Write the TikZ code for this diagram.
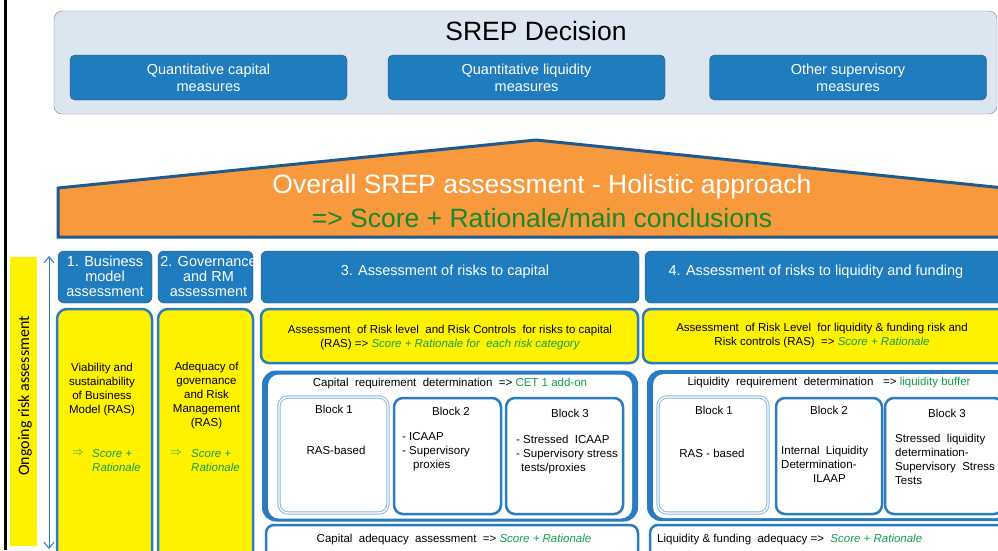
\documentclass[tikz,border=0pt]{standalone}
\usepackage{fontspec}
\setmainfont{Liberation Sans}
\newfontfamily\calfont{Carlito}
\usetikzlibrary{arrows.meta}

\definecolor{boxblue}{HTML}{1F7CBF}
\definecolor{boxedge}{HTML}{3D4A57}
\definecolor{paleblue}{HTML}{DCE6F0}
\definecolor{rooforange}{HTML}{F7993C}
\definecolor{roofedge}{HTML}{1F5A8F}
\definecolor{lineblue}{HTML}{2A7CC2}
\definecolor{darkgreen}{HTML}{17892D}
\definecolor{scoregreen}{HTML}{12A04A}

\newcommand{\scoretxt}[1]{{\color{scoregreen}\itshape #1}}

\tikzset{
  decision/.style={draw=gray, fill=paleblue, rounded corners=8, inner sep=0},
  measure/.style={draw=boxedge, fill=boxblue, rounded corners=5, inner sep=0,
    minimum width=277, minimum height=45, text=white, align=center,
    font=\fontsize{14.5}{17}\selectfont},
  pillar/.style={draw=boxedge, fill=boxblue, rounded corners=6, inner sep=0, minimum height=52},
  pillartext/.style={text=white, align=center, font=\fontsize{14.5}{15}\selectfont},
  yellowbox/.style={draw=lineblue, line width=2.5pt, fill=yellow, rounded corners=10, inner sep=0},
  whitebox/.style={draw=lineblue, line width=2.5pt, fill=white, rounded corners=8, inner sep=0},
  blockbox/.style={draw=lineblue, line width=2.5pt, fill=white, rounded corners=9, inner sep=0,
    minimum height=116},
  blockone/.style={draw=lineblue!55, double=white, double distance=1.3pt, line width=1pt,
    fill=white, rounded corners=9, inner sep=0, minimum height=116},
  small/.style={font=\fontsize{11.5}{14}\selectfont, align=center, inner sep=0},
  smallleft/.style={font=\fontsize{11.5}{14}\selectfont, align=left, inner sep=0},
  scorebox/.style={text=scoregreen, font=\fontsize{11.5}{14}\selectfont\itshape, align=left, inner sep=0},
  big/.style={font=\fontsize{26.5}{30}\selectfont, inner sep=0}
}

\begin{document}
\begin{tikzpicture}[x=1pt,y=-1pt]
\clip (0,0) rectangle (998,550);
\fill[white] (0,0) rectangle (998,550);

\draw[line width=3pt] (5.5,0) -- (5.5,550);

\node[decision, minimum width=943, minimum height=103] (decision) at (525.5,62.5) {};
\node[big] (decisiontitle) at (536,31) {SREP Decision};
\node[measure] (capmeasures) at (208.5,77.5) {Quantitative capital\\measures};
\node[measure] (liqmeasures) at (526.5,77.5) {Quantitative liquidity\\measures};
\node[measure] (othermeasures) at (848,77.5) {Other supervisory\\measures};

\draw[fill=rooforange, draw=roofedge, line width=3pt]
  (58,188) -- (536,140) -- (1004,188) -- (1004,237) -- (58,237) -- cycle;
\node[big, text=white] (overall) at (542,187) {Overall SREP assessment - Holistic approach};
\node[big, text=darkgreen] (conclusions) at (542,218) {=> Score + Rationale/main conclusions};

\node[fill=yellow, minimum width=27, minimum height=289, inner sep=0] (ongoingbar) at (23.5,401.5) {};
\node[rotate=90, inner sep=0, font=\calfont\fontsize{16}{18}\selectfont] (ongoing) at (25,396) {Ongoing risk assessment};
\coordinate (arrowtop) at (49,256);
\coordinate (arrowbottom) at (49,549);
\draw[lineblue, line width=1pt, {Straight Barb[length=6pt,width=10pt]}-{Straight Barb[length=6pt,width=10pt]}]
  (arrowtop) -- (arrowbottom);

\node[pillar, minimum width=94] (business) at (105,277) {};
\node[pillartext] (businesstext) at (105,276) {1. Business\\model\\assessment};
\node[pillar, minimum width=95] (governance) at (205.5,277) {};
\node[pillartext] (governancetext) at (208.5,276) {2. Governance\\and RM\\assessment};
\node[pillar, minimum width=378] (capital) at (450,277) {};
\node[pillartext] (capitaltext) at (445,272) {3. Assessment of risks to capital};
\node[pillar, minimum width=367] (liquidity) at (828.5,277) {};
\node[pillartext, anchor=west] (liquiditytext) at (665,272) {4. Assessment of risks to liquidity and funding};

\node[yellowbox, minimum width=95, minimum height=262] (businessbox) at (104.5,440) {};
\node[small] (viability) at (102,390) {Viability and\\sustainability\\of Business\\Model (RAS)};
\node[small, text=scoregreen] (businessarrow) at (78,453) {$\Rightarrow$};
\node[scorebox, anchor=west] (businessscore) at (92,460.5) {Score +\\Rationale};

\node[yellowbox, minimum width=95, minimum height=262] (governancebox) at (205.5,440) {};
\node[small] (adequacy) at (206.5,396) {Adequacy of\\governance\\and Risk\\Management\\(RAS)};
\node[small, text=scoregreen] (governancearrow) at (176,453) {$\Rightarrow$};
\node[scorebox, anchor=west] (governancescore) at (191,460.5) {Score +\\Rationale};

\node[yellowbox, minimum width=377, minimum height=54, rounded corners=8] (capras) at (449.5,336) {};
\node[small] (caprastext) at (450,338) {Assessment\ \ of Risk level\ \ and Risk Controls\ \ for risks to capital\\(RAS) => \scoretxt{Score + Rationale for\ \ each risk category}};
\node[yellowbox, minimum width=367, minimum height=54, rounded corners=8] (liqras) at (826.5,336) {};
\node[small] (liqrastext) at (822,336) {Assessment\ \ of Risk Level\ \ for liquidity \& funding risk and\\Risk controls (RAS)\ \ => \scoretxt{Score + Rationale}};

\node[fill=lineblue, rounded corners=14, minimum width=376, minimum height=151, inner sep=0] (capreq) at (450,446) {};
\node[fill=white, rounded corners=11, minimum width=364, minimum height=144, inner sep=0] (capreqinner) at (450,446.5) {};
\node[small] (capreqtitle) at (450,384) {Capital\ \ requirement\ \ determination\ \ => {\color{scoregreen}CET 1 add-on}};

\node[blockone, minimum width=109] (capblocka) at (333.5,455) {};
\node[small] (capblockatitle) at (334,409) {Block 1};
\node[small] (capblockabody) at (336,450) {RAS-based};
\node[blockbox, minimum width=107] (capblockb) at (447.5,456) {};
\node[small] (capblockbtitle) at (451,411) {Block 2};
\node[smallleft, anchor=north west] (capblockbbody) at (402,432) {- ICAAP\\- Supervisory\\\hspace*{11pt}proxies};
\node[blockbox, minimum width=117] (capblockc) at (564.5,456) {};
\node[small] (capblockctitle) at (570,413) {Block 3};
\node[smallleft, anchor=north west] (capblockcbody) at (516,435) {- Stressed\ \ ICAAP\\- Supervisory stress\\\hspace*{5pt}tests/proxies};

\node[whitebox, minimum width=372, minimum height=46] (capadequacy) at (452,548) {};
\node[small] (capadequacytext) at (454,540) {Capital\ \ adequacy\ \ assessment\ \ => \scoretxt{Score + Rationale}};

\node[fill=lineblue, rounded corners=14, minimum width=366, minimum height=151, inner sep=0] (liqreq) at (830,445.5) {};
\node[fill=white, rounded corners=11, minimum width=354, minimum height=144, inner sep=0] (liqreqinner) at (830,446) {};
\node[small] (liqreqtitle) at (829,383) {Liquidity\ \ requirement\ \ determination\ \ \ => {\color{scoregreen}liquidity buffer}};

\node[blockone, minimum width=110] (liqblocka) at (713,455) {};
\node[small] (liqblockatitle) at (714,410) {Block 1};
\node[small] (liqblockabody) at (712,453) {RAS - based};
\node[blockbox, minimum width=106] (liqblockb) at (829,456) {};
\node[small] (liqblockbtitle) at (829,410) {Block 2};
\node[smallleft, anchor=north west] (liqblockbbody) at (781,446) {Internal\ \ Liquidity\\Determination-\\\hspace*{32pt}ILAAP};
\node[blockbox, minimum width=118] (liqblockc) at (944,456) {};
\node[small] (liqblockctitle) at (947,413) {Block 3};
\node[smallleft, anchor=north west] (liqblockcbody) at (895,434) {Stressed\ \ liquidity\\determination-\\Supervisory\ \ Stress\\Tests};

\node[whitebox, minimum width=362, minimum height=46] (liqadequacy) at (831,548) {};
\node[small, anchor=west] (liqadequacytext) at (657,540) {Liquidity \& funding\ \ adequacy =>\ \ \scoretxt{Score + Rationale}};

\end{tikzpicture}
\end{document}
